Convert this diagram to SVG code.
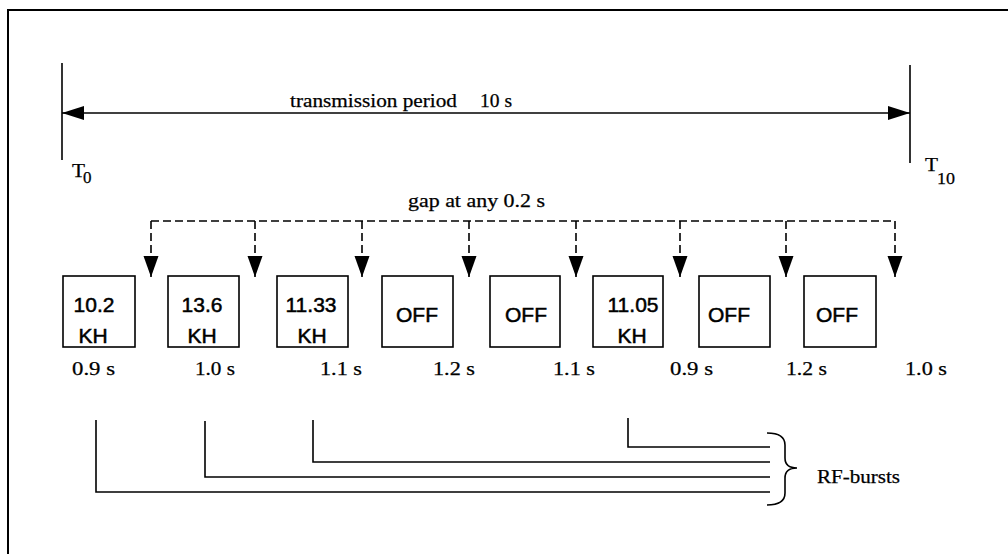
<svg xmlns="http://www.w3.org/2000/svg" width="1008" height="554" viewBox="0 0 1008 554">
<style>
.ln{stroke:#000;stroke-width:1.6;fill:none}
.dash{stroke:#000;stroke-width:1.6;fill:none;stroke-dasharray:8 4}
.box{stroke:#000;stroke-width:1.6;fill:#fff}
.serif{font-family:"Liberation Serif","Times New Roman",serif;font-size:19px;fill:#000;stroke:#000;stroke-width:0.25}
.sub{font-family:"Liberation Serif","Times New Roman",serif;font-size:17px;fill:#000;stroke:#000;stroke-width:0.25}
.bt{font-family:"Liberation Sans",Arial,sans-serif;font-size:21px;fill:#000;stroke:#000;stroke-width:0.5;text-anchor:middle}
</style>
<defs>
<marker id="ah" viewBox="0 0 22 16" refX="22" refY="8" markerWidth="22" markerHeight="16" markerUnits="userSpaceOnUse" orient="auto">
<path d="M0,1 L22,8 L0,15 Z" fill="#000"/>
</marker>
<marker id="dh" viewBox="0 0 21 16" refX="21" refY="8" markerWidth="21" markerHeight="16" markerUnits="userSpaceOnUse" orient="auto">
<path d="M0,0.5 L21,8 L0,15.5 Z" fill="#000"/>
</marker>
</defs>
<rect width="1008" height="554" fill="#fff"/>
<g id="frame">
<path class="ln" d="M8,554 L8,10 L1008,10" style="stroke-width:2"/>
</g>
<g id="period">
<line class="ln" x1="62" y1="63" x2="62" y2="160"/>
<line class="ln" x1="910" y1="65" x2="910" y2="163"/>
<text class="serif" x="290" y="107" textLength="167" lengthAdjust="spacingAndGlyphs">transmission period</text>
<text class="serif" x="480" y="107" textLength="32" lengthAdjust="spacingAndGlyphs">10 s</text>
<text class="serif" x="72" y="177" textLength="13" lengthAdjust="spacingAndGlyphs">T</text><text class="sub" x="83" y="183">0</text>
<text class="serif" x="925" y="171" textLength="13" lengthAdjust="spacingAndGlyphs">T</text><text class="sub" x="937" y="184" textLength="18" lengthAdjust="spacingAndGlyphs">10</text>
</g>
<g id="gap-label">
<text class="serif" x="408" y="207" textLength="137" lengthAdjust="spacingAndGlyphs">gap at any 0.2 s</text>
</g>
<g id="connectors">
<line class="ln" x1="100" y1="113" x2="62" y2="113" marker-end="url(#ah)"/>
<line class="ln" x1="480" y1="113" x2="910" y2="113" marker-end="url(#ah)"/>
<line class="ln" x1="480" y1="113" x2="100" y2="113"/>
<line class="dash" x1="151" y1="221" x2="895" y2="221"/>
<line class="dash" x1="151" y1="221" x2="151" y2="277" marker-end="url(#dh)"/>
<line class="dash" x1="255" y1="221" x2="255" y2="277" marker-end="url(#dh)"/>
<line class="dash" x1="362" y1="221" x2="362" y2="277" marker-end="url(#dh)"/>
<line class="dash" x1="469" y1="221" x2="469" y2="277" marker-end="url(#dh)"/>
<line class="dash" x1="576" y1="221" x2="576" y2="277" marker-end="url(#dh)"/>
<line class="dash" x1="680" y1="221" x2="680" y2="277" marker-end="url(#dh)"/>
<line class="dash" x1="786" y1="221" x2="786" y2="277" marker-end="url(#dh)"/>
<line class="dash" x1="895" y1="221" x2="895" y2="277" marker-end="url(#dh)"/>
<path class="ln" d="M628,418 L628,447 L770,447"/>
<path class="ln" d="M313,420 L313,462 L770,462"/>
<path class="ln" d="M205,421 L205,477 L770,477"/>
<path class="ln" d="M96,420 L96,492 L770,492"/>
</g>
<g id="box1"><rect class="box" x="63" y="276" width="72" height="71"/><text class="bt" x="94" y="312">10.2</text><text class="bt" x="93" y="343">KH</text></g>
<g id="box2"><rect class="box" x="168" y="276" width="71" height="71"/><text class="bt" x="202" y="312">13.6</text><text class="bt" x="202" y="343">KH</text></g>
<g id="box3"><rect class="box" x="277" y="276" width="71" height="71"/><text class="bt" x="311" y="312">11.33</text><text class="bt" x="312" y="343">KH</text></g>
<g id="box4"><rect class="box" x="382" y="276" width="71" height="71"/><text class="bt" x="417" y="322">OFF</text></g>
<g id="box5"><rect class="box" x="490" y="276" width="70" height="71"/><text class="bt" x="526" y="322">OFF</text></g>
<g id="box6"><rect class="box" x="593" y="276" width="70" height="71"/><text class="bt" x="633" y="312">11.05</text><text class="bt" x="632" y="343">KH</text></g>
<g id="box7"><rect class="box" x="699" y="276" width="71" height="71"/><text class="bt" x="729" y="322">OFF</text></g>
<g id="box8"><rect class="box" x="804" y="276" width="72" height="71"/><text class="bt" x="837" y="322">OFF</text></g>
<g id="durations">
<text class="serif" x="72" y="375" textLength="43" lengthAdjust="spacingAndGlyphs">0.9 s</text>
<text class="serif" x="195" y="375" textLength="40" lengthAdjust="spacingAndGlyphs">1.0 s</text>
<text class="serif" x="320" y="375" textLength="42" lengthAdjust="spacingAndGlyphs">1.1 s</text>
<text class="serif" x="433" y="375" textLength="42" lengthAdjust="spacingAndGlyphs">1.2 s</text>
<text class="serif" x="553" y="375" textLength="42" lengthAdjust="spacingAndGlyphs">1.1 s</text>
<text class="serif" x="670" y="375" textLength="43" lengthAdjust="spacingAndGlyphs">0.9 s</text>
<text class="serif" x="786" y="375" textLength="41" lengthAdjust="spacingAndGlyphs">1.2 s</text>
<text class="serif" x="905" y="375" textLength="42" lengthAdjust="spacingAndGlyphs">1.0 s</text>
</g>
<g id="rf-bursts">
<path class="ln" d="M767,433 Q785,433 785,445 L785,458 Q785,468 797,468 Q785,468 785,478 L785,493 Q785,505 767,505"/>
<text class="serif" x="817" y="483" textLength="83" lengthAdjust="spacingAndGlyphs">RF-bursts</text>
</g>
</svg>
